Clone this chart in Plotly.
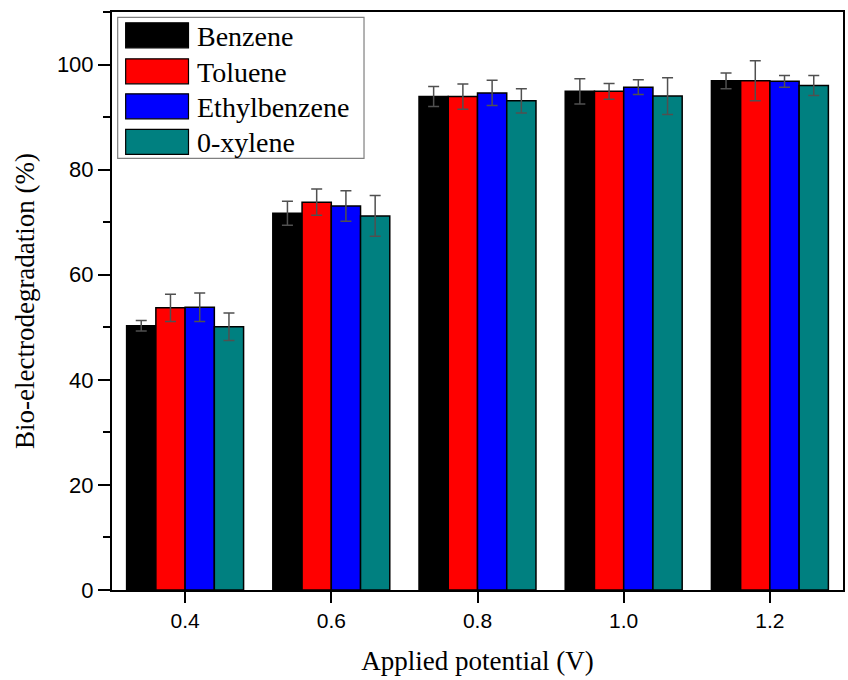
import plotly.graph_objects as go

categories = ["0.4", "0.6", "0.8", "1.0", "1.2"]
series_names = ["Benzene", "Toluene", "Ethylbenzene", "0-xylene"]
benzene = [50.3, 71.7, 93.9, 94.9, 96.9]
benzene_err = [1.0, 2.3, 1.9, 2.4, 1.5]
toluene = [53.7, 73.8, 93.9, 94.9, 96.9]
toluene_err = [2.6, 2.5, 2.4, 1.5, 3.8]
ethylbenzene = [53.8, 73.1, 94.6, 95.7, 96.8]
ethylbenzene_err = [2.7, 2.9, 2.4, 1.4, 1.1]
oxylene = [50.1, 71.2, 93.1, 94.0, 96.0]
oxylene_err = [2.6, 3.9, 2.3, 3.5, 1.9]
colors = ["#000000", "#FF0000", "#0000FF", "#008080"]

values = [benzene, toluene, ethylbenzene, oxylene]
errors = [benzene_err, toluene_err, ethylbenzene_err, oxylene_err]

fig = go.Figure()
for name, vals, errs, col in zip(series_names, values, errors, colors):
    fig.add_trace(go.Bar(
        x=categories, y=vals, name=name, showlegend=False,
        marker=dict(color=col, line=dict(color="#000000", width=1.5)),
        error_y=dict(type="data", array=errs, visible=True,
                     color="#505050", thickness=1.5, width=5.5),
    ))

serif = "Liberation Serif, Times New Roman, serif"
sans = "Liberation Sans, Arial, sans-serif"

# custom legend (layout elements, paper coordinates)
W, H = 733.0, 578.0
x_left, y_bottom = 112.3, 589.7
def px2x(p): return (p - x_left) / W
def px2y(p): return (y_bottom - p) / H

shapes = [dict(type="rect", xref="paper", yref="paper",
               x0=px2x(118), x1=px2x(365), y0=px2y(158), y1=px2y(17),
               line=dict(color="#808080", width=1.2), fillcolor="rgba(255,255,255,1)", layer="above")]
annotations = []
row_centers = [35, 71, 106, 141.5]
for name, col, yc in zip(series_names, colors, row_centers):
    shapes.append(dict(type="rect", xref="paper", yref="paper",
                       x0=px2x(126), x1=px2x(189), y0=px2y(yc + 12.5), y1=px2y(yc - 12.5),
                       line=dict(color="#000000", width=1.2), fillcolor=col, layer="above"))
    annotations.append(dict(xref="paper", yref="paper", x=px2x(196), y=px2y(yc + 1),
                            text=name, showarrow=False, xanchor="left", yanchor="middle",
                            font=dict(family=serif, size=28, color="#000000")))

fig.update_layout(
    width=848, height=680,
    margin=dict(l=112, r=3, t=12, b=90),
    paper_bgcolor="white", plot_bgcolor="white",
    barmode="group", bargap=0.2, bargroupgap=0.0,
    shapes=shapes, annotations=annotations,
    showlegend=False,
)
fig.update_xaxes(
    type="category", range=[-0.5, 4.5],
    showline=True, linecolor="#000000", linewidth=2, mirror=True,
    ticks="outside", ticklen=11, tickwidth=2, tickcolor="#000000",
    tickfont=dict(family=sans, size=21, color="#000000"),
    showgrid=False, zeroline=False,
    title=dict(text="Applied potential (V)", font=dict(family=serif, size=27, color="#000000"), standoff=20),
)
fig.update_yaxes(
    range=[0, 110], tickvals=[0, 20, 40, 60, 80, 100],
    showline=True, linecolor="#000000", linewidth=2, mirror=True,
    ticks="outside", ticklen=12, tickwidth=2, tickcolor="#000000",
    minor=dict(tickvals=[10, 30, 50, 70, 90, 110], ticks="outside", ticklen=7, tickwidth=1.5, tickcolor="#000000"),
    tickfont=dict(family=sans, size=22, color="#000000"),
    showgrid=False, zeroline=False,
    title=dict(text="Bio-electrodegradation (%)", font=dict(family=serif, size=27, color="#000000"), standoff=14),
)

fig.write_html("out.html", config={"displayModeBar": False},
               post_script="document.body.style.margin='0';document.body.style.padding='0';")
